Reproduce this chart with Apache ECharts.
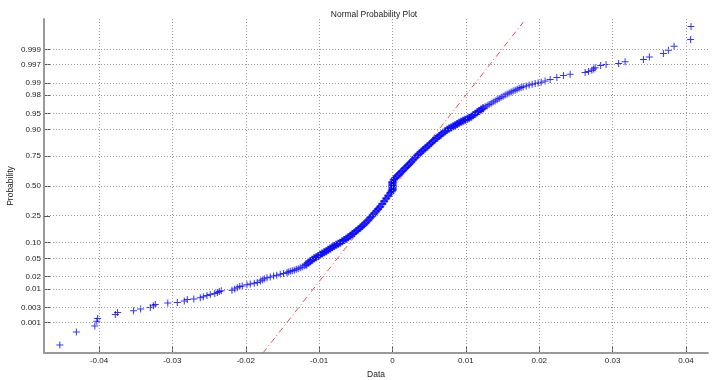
<!DOCTYPE html>
<html>
<head>
<meta charset="utf-8">
<script src="https://cdn.jsdelivr.net/npm/echarts@6/dist/echarts.min.js"></script>
<style>html,body{margin:0;padding:0;background:#fff;}#c{width:720px;height:380px;}</style>
</head>
<body>
<div id="c"></div>
<script>
// ---- data: [sample value, normal quantile] ----
const lowerTail = [[-0.04534,-3.598],[-0.04309,-3.303],[-0.04057,-3.167],[-0.0403,-3.061],[-0.04019,-2.997],[-0.03778,-2.907],[-0.03747,-2.861],[-0.03529,-2.823],[-0.03433,-2.782],[-0.03301,-2.748],[-0.0326,-2.710],[-0.03233,-2.685],[-0.03063,-2.646],[-0.02933,-2.635],[-0.02838,-2.601],[-0.02797,-2.571],[-0.02708,-2.555],[-0.0262,-2.528],[-0.02579,-2.506],[-0.02529,-2.476],[-0.02484,-2.454],[-0.02422,-2.435],[-0.02388,-2.408],[-0.02361,-2.386],[-0.02334,-2.370],[-0.02188,-2.358],[-0.0215,-2.329],[-0.02116,-2.302],[-0.02082,-2.277],[-0.02048,-2.261],[-0.01984,-2.234],[-0.01939,-2.216],[-0.01884,-2.2],[-0.01843,-2.182],[-0.01802,-2.152],[-0.01775,-2.125],[-0.01748,-2.102],[-0.01711,-2.075],[-0.01666,-2.057],[-0.01621,-2.039],[-0.01578,-2.019],[-0.0153,-2.0],[-0.01485,-1.978],[-0.01439,-1.962]];
const lowerBand = [[-0.01421,-1.944],[-0.01394,-1.932],[-0.01366,-1.921],[-0.01339,-1.905],[-0.01312,-1.887],[-0.01285,-1.871],[-0.01257,-1.853],[-0.0123,-1.831],[-0.01203,-1.803],[-0.01176,-1.774],[-0.01149,-1.740],[-0.01121,-1.706],[-0.01094,-1.672],[-0.01067,-1.638],[-0.0104,-1.611],[-0.01012,-1.584],[-0.00985,-1.556],[-0.00958,-1.529],[-0.00931,-1.502],[-0.00903,-1.475],[-0.00876,-1.445],[-0.00849,-1.416],[-0.00822,-1.386],[-0.00794,-1.357],[-0.00767,-1.328],[-0.0074,-1.305],[-0.00713,-1.282],[-0.00685,-1.253],[-0.00658,-1.223],[-0.00631,-1.192],[-0.00604,-1.160],[-0.00576,-1.128],[-0.00549,-1.092],[-0.00522,-1.056],[-0.00495,-1.019],[-0.00467,-0.983],[-0.0044,-0.947],[-0.00413,-0.906],[-0.00386,-0.865],[-0.00358,-0.822],[-0.00331,-0.773],[-0.00304,-0.720],[-0.00277,-0.675],[-0.00249,-0.625],[-0.00222,-0.573],[-0.00195,-0.523],[-0.00168,-0.471],[-0.0014,-0.410],[-0.00113,-0.347],[-0.00086,-0.285],[-0.00059,-0.222],[-0.00031,-0.165],[-0.00011,-0.120]];
const centerStep = [[0,-0.09],[0,-0.06],[0,-0.03],[0,0],[0,0.03],[0,0.06],[0,0.09]];
const upperBand = [[0.00016,0.140],[0.00037,0.179],[0.00064,0.224],[0.00091,0.270],[0.00119,0.315],[0.00146,0.358],[0.00173,0.406],[0.002,0.451],[0.00228,0.496],[0.00255,0.541],[0.00282,0.594],[0.00309,0.643],[0.00337,0.691],[0.00364,0.732],[0.00391,0.773],[0.00418,0.813],[0.00446,0.854],[0.00473,0.895],[0.005,0.936],[0.00527,0.976],[0.00554,1.017],[0.00582,1.058],[0.00609,1.094],[0.00636,1.130],[0.00663,1.167],[0.00691,1.203],[0.00718,1.239],[0.00745,1.271],[0.00772,1.300],[0.008,1.325],[0.00827,1.353],[0.00854,1.377],[0.00881,1.402],[0.00909,1.430],[0.00936,1.452],[0.00963,1.477],[0.0099,1.500],[0.01018,1.522],[0.01045,1.543],[0.01072,1.568],[0.01099,1.602],[0.01127,1.636],[0.01154,1.670],[0.01181,1.699],[0.01208,1.731],[0.01236,1.760],[0.01263,1.792],[0.0129,1.819],[0.01317,1.846],[0.01345,1.874],[0.01372,1.901],[0.01399,1.923],[0.01426,1.953],[0.01454,1.982],[0.01481,2.010],[0.01508,2.034],[0.01535,2.059],[0.01563,2.082],[0.0159,2.105],[0.01617,2.127],[0.01644,2.148],[0.01672,2.168],[0.01699,2.191],[0.01726,2.213],[0.01753,2.232],[0.01781,2.245],[0.01822,2.266],[0.01862,2.284],[0.01903,2.302],[0.01944,2.320],[0.01985,2.333],[0.02026,2.349],[0.0208,2.379],[0.02149,2.410],[0.0224,2.456],[0.0233,2.501],[0.02421,2.531]];
const upperTail = [[0.02625,2.569],[0.0267,2.592],[0.02717,2.621],[0.02741,2.648],[0.02762,2.678],[0.02837,2.728],[0.02911,2.750],[0.03082,2.773],[0.0317,2.814],[0.0342,2.866],[0.03501,2.922],[0.03692,3.0],[0.0376,3.074],[0.03838,3.165],[0.04063,3.317],[0.04069,3.611]];
const refLine = [[-0.01766,-3.78],[0.01785,3.715]];
const xTicks = [-0.04,-0.03,-0.02,-0.01,0,0.01,0.02,0.03,0.04];
const xTickLabels = ['-0.04','-0.03','-0.02','-0.01','0','0.01','0.02','0.03','0.04'];
const probTicks = [0.001,0.003,0.01,0.02,0.05,0.10,0.25,0.50,0.75,0.90,0.95,0.98,0.99,0.997,0.999];
const probTickLabels = ['0.001','0.003','0.01','0.02','0.05','0.10','0.25','0.50','0.75','0.90','0.95','0.98','0.99','0.997','0.999'];

// inverse standard normal CDF (probability axis scale)
function normInv(p){
  const a=[-3.969683028665376e+01,2.209460984245205e+02,-2.759285104469687e+02,1.383577518672690e+02,-3.066479806614716e+01,2.506628277459239e+00];
  const b=[-5.447609879822406e+01,1.615858368580409e+02,-1.556989798598866e+02,6.680131188771972e+01,-1.328068155288572e+01];
  const c=[-7.784894002430293e-03,-3.223964580411365e-01,-2.400758277161838e+00,-2.549671010115119e+00,4.374664141464968e+00,2.938163982698783e+00];
  const d=[7.784695709041462e-03,3.224671290700398e-01,2.445134137142996e+00,3.754408661907416e+00];
  const pl=0.02425, ph=1-pl; let q,r;
  if(p<pl){q=Math.sqrt(-2*Math.log(p));return (((((c[0]*q+c[1])*q+c[2])*q+c[3])*q+c[4])*q+c[5])/((((d[0]*q+d[1])*q+d[2])*q+d[3])*q+1);}
  if(p<=ph){q=p-0.5;r=q*q;return (((((a[0]*r+a[1])*r+a[2])*r+a[3])*r+a[4])*r+a[5])*q/(((((b[0]*r+b[1])*r+b[2])*r+b[3])*r+b[4])*r+1);}
  q=Math.sqrt(-2*Math.log(1-p));
  return -(((((c[0]*q+c[1])*q+c[2])*q+c[3])*q+c[4])*q+c[5])/((((d[0]*q+d[1])*q+d[2])*q+d[3])*q+1);
}
const probZ = probTicks.map(normInv);

const points = [].concat(lowerTail, lowerBand, centerStep, upperBand, upperTail);
const plusPath = 'path://M3,0 H4 V3 H7 V4 H4 V7 H3 V4 H0 V3 H3 Z';
const plusBold = 'path://M3,0 H5 V3 H8 V5 H5 V8 H3 V5 H0 V3 H3 Z';
function isDense(v){ return v[0] > -0.0118 && v[0] < 0.0126; }
const gridStyle = {color:'#9a9a9a', type:[1,2], width:1};
const fontFam = 'Liberation Sans, Arial, sans-serif';
const axisFont = {fontFamily:fontFam, fontSize:8, color:'#222'};

const chart = echarts.init(document.getElementById('c'), null, {renderer:'canvas'});
chart.setOption({
  animation:false,
  backgroundColor:'#fff',
  title:{text:'Normal Probability Plot', left:369, top:5, textAlign:'center',
    textStyle:{fontFamily:fontFam, fontSize:8.5, fontWeight:'normal', color:'#222'}},
  grid:{left:44, top:19, width:664, height:334, containLabel:false, outerBoundsMode:'none'},
  xAxis:{type:'value', min:-0.0475, max:0.043,
    name:'Data', nameLocation:'middle', nameGap:11,
    nameTextStyle:{fontFamily:fontFam, fontSize:8.5, color:'#222'},
    axisLine:{show:true, onZero:false, lineStyle:{color:'#9a9a9a', width:2}},
    axisTick:{show:true, inside:true, length:6, customValues:xTicks, lineStyle:{color:'#555', width:1}},
    axisLabel:Object.assign({customValues:xTicks, margin:4,
      formatter:function(v){const i=xTicks.findIndex(t=>Math.abs(t-v)<1e-9);return i>=0?xTickLabels[i]:'';}}, axisFont),
    splitLine:{show:false}},
  yAxis:{type:'value', min:-3.78, max:3.78,
    name:'Probability', nameLocation:'middle', nameGap:29, nameMoveOverlap:false,
    nameTextStyle:{fontFamily:fontFam, fontSize:8.5, color:'#222'},
    axisLine:{show:true, onZero:false, lineStyle:{color:'#9a9a9a', width:2}},
    axisTick:{show:true, inside:true, length:6, customValues:probZ, lineStyle:{color:'#555', width:1}},
    axisLabel:Object.assign({customValues:probZ, margin:3,
      formatter:function(v){const i=probZ.findIndex(t=>Math.abs(t-v)<1e-6);return i>=0?probTickLabels[i]:'';}}, axisFont),
    splitLine:{show:false}},
  series:[
    {type:'line', data:refLine, symbol:'none', z:1, silent:true,
      lineStyle:{color:'#e8505a', width:1, type:[6,3,1,3]},
      markLine:{silent:true, symbol:['none','none'], label:{show:false}, lineStyle:gridStyle,
        emphasis:{disabled:true},
        data: xTicks.map(x=>({xAxis:x})).concat(probZ.map(z=>({yAxis:z})))}},
    {type:'scatter', data:points, z:3, silent:true,
      symbol:function(v){ return isDense(v) ? plusBold : plusPath; },
      symbolSize:function(v){ return isDense(v) ? 8 : 7; },
      itemStyle:{color:'#0000ff'}}
  ]
});
</script>
</body>
</html>
